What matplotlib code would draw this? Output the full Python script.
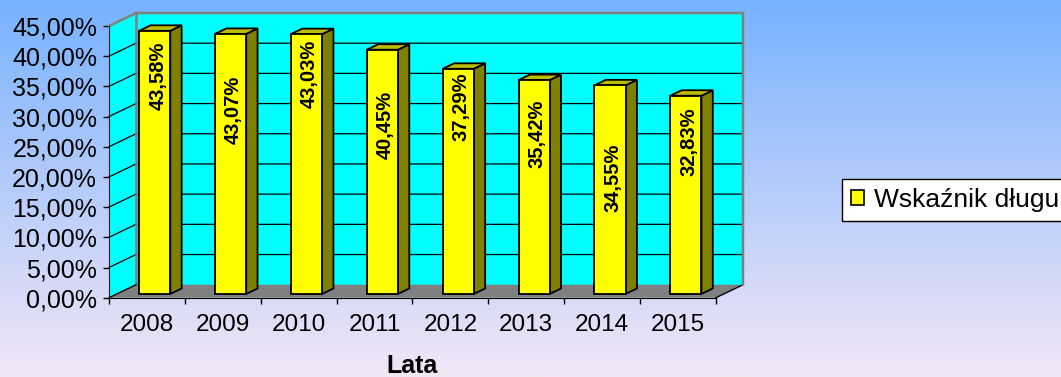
import numpy as np
import matplotlib
matplotlib.use("Agg")
import matplotlib.pyplot as plt
from matplotlib.patches import Polygon, Rectangle

plt.rcParams["font.family"] = ["Liberation Sans", "DejaVu Sans"]

# dane
years = ["2008", "2009", "2010", "2011", "2012", "2013", "2014", "2015"]
debt_ratio = [43.58, 43.07, 43.03, 40.45, 37.29, 35.42, 34.55, 32.83]
y_ticks = [0, 5, 10, 15, 20, 25, 30, 35, 40, 45]
series_name = "Wskaźnik długu"
x_title = "Lata"

# wysokość środka etykiety na słupku (w %)
label_y = [36.7, 31.1, 37.0, 28.6, 31.7, 27.2, 19.8, 25.8]

# geometria pseudo-3D
DX, DY = 0.356, 2.15          # przesunięcie głębi ścian
BAR_W = 0.41                  # szerokość słupka
Z0, Z1 = 0.29, 0.71           # głębokość przodu / tyłu słupka
Y_MAX = 45

CYAN = "#00FFFF"
GRAY = "#808080"
YELLOW = "#FFFF00"
SIDE = "#808000"
TOP = "#BDBD00"


def pt(x, y, z):
    return (x + z * DX, y + z * DY)


def fmt_pct(v):
    return f"{v:.2f}%".replace(".", ",")


W, H = 1061, 377
fig = plt.figure(figsize=(W / 100, H / 100), dpi=100)

# tło z gradientem
bg = fig.add_axes([0, 0, 1, 1], zorder=-10)
top_c = np.array([0x76, 0xB2, 0xFF]) / 255
bot_c = np.array([0xF3, 0xE6, 0xF6]) / 255
t = np.linspace(0, 1, 256)[:, None]
grad = top_c * (1 - t) + bot_c * t
bg.imshow(grad[:, None, :], aspect="auto", extent=[0, 1, 0, 1])
bg.axis("off")

n = len(years)
ax = fig.add_axes([109 / W, 79.3 / H, 634 / W, 284.7 / H])
ax.set_xlim(0, n + DX)
ax.set_ylim(0, Y_MAX + DY)
ax.patch.set_visible(False)

# ściany i podłoga
back = Polygon([pt(0, 0, 1), pt(n, 0, 1), pt(n, Y_MAX, 1), pt(0, Y_MAX, 1)],
               fc=CYAN, ec="none", zorder=1, clip_on=False)
left = Polygon([pt(0, 0, 0), pt(0, 0, 1), pt(0, Y_MAX, 1), pt(0, Y_MAX, 0)],
               fc=CYAN, ec="none", zorder=1, clip_on=False)
floor = Polygon([pt(0, 0, 0), pt(n, 0, 0), pt(n, 0, 1), pt(0, 0, 1)],
                fc=GRAY, ec="none", zorder=2, clip_on=False)
for p in (back, left, floor):
    ax.add_patch(p)

# linie siatki
for v in y_ticks[1:-1]:
    a, b, c = pt(0, v, 0), pt(0, v, 1), pt(n, v, 1)
    ax.plot([a[0], b[0], c[0]], [a[1], b[1], c[1]], color="black", lw=0.9,
            zorder=1.5, clip_on=False)

# krawędzie ścian
a, b, c = pt(0, Y_MAX, 0), pt(0, Y_MAX, 1), pt(n, Y_MAX, 1)
d = pt(n, 0, 1)
e = pt(0, 0, 1)
ax.plot([a[0], b[0], c[0], d[0]], [a[1], b[1], c[1], d[1]], color=GRAY, lw=1.8,
        zorder=3, clip_on=False, solid_joinstyle="miter")
ax.plot([e[0], b[0]], [e[1], b[1]], color=GRAY, lw=1.8, zorder=1.6, clip_on=False)
for x0 in (0, n):
    p0, p1 = pt(x0, 0, 0), pt(x0, 0, 1)
    ax.plot([p0[0], p1[0]], [p0[1], p1[1]], color="black", lw=1.0,
            zorder=2.5, clip_on=False)

# słupki
for i, v in enumerate(debt_ratio):
    cx = i + 0.5
    xl, xr = cx - BAR_W / 2, cx + BAR_W / 2
    front = Polygon([pt(xl, 0, Z0), pt(xr, 0, Z0), pt(xr, v, Z0), pt(xl, v, Z0)],
                    fc=YELLOW, ec="black", lw=1.3, zorder=5, joinstyle="miter")
    side = Polygon([pt(xr, 0, Z0), pt(xr, 0, Z1), pt(xr, v, Z1), pt(xr, v, Z0)],
                   fc=SIDE, ec="black", lw=1.3, zorder=4, joinstyle="miter")
    topf = Polygon([pt(xl, v, Z0), pt(xr, v, Z0), pt(xr, v, Z1), pt(xl, v, Z1)],
                   fc=TOP, ec="black", lw=1.3, zorder=4, joinstyle="miter")
    for p in (side, topf, front):
        ax.add_patch(p)
    lx = cx + Z0 * DX + 0.04
    ax.text(lx, label_y[i], fmt_pct(v), rotation=90, ha="center", va="center",
            fontsize=14.5, fontweight="bold", zorder=6)

# osie
for s in ("top", "right"):
    ax.spines[s].set_visible(False)
ax.spines["left"].set_bounds(0, Y_MAX)
ax.spines["bottom"].set_bounds(0, n)
ax.spines["left"].set_color("#202020")
ax.spines["left"].set_zorder(3)
ax.spines["bottom"].set_zorder(3)

ax.set_yticks(y_ticks)
ax.set_yticklabels([fmt_pct(v) for v in y_ticks])
ax.tick_params(axis="y", length=4.3, width=1.0, pad=4.3, labelsize=18)

ax.set_xticks(range(n + 1))
ax.set_xticklabels([])
ax.set_xticks([i + 0.5 for i in range(n)], minor=True)
ax.set_xticklabels(years, minor=True)
ax.tick_params(axis="x", which="major", length=4.3, width=1.0)
ax.tick_params(axis="x", which="minor", length=0, pad=12, labelsize=17.5)

ax.set_xlabel(x_title, fontsize=18, fontweight="bold", va="top")
ax.xaxis.set_label_coords(4 / (n + DX), -0.198)

# legenda (ramka wychodzi poza prawą krawędź)
handle = Rectangle((0, 0), 1, 1, fc=YELLOW, ec="black", lw=1.2)
leg = fig.legend([handle], [series_name], loc="upper left",
                 bbox_to_anchor=(842 / W, 1 - 179 / H), bbox_transform=fig.transFigure,
                 fontsize=19, frameon=True, fancybox=False, edgecolor="black",
                 framealpha=1, handlelength=0.5, handleheight=0.5,
                 handletextpad=0.38, borderpad=0.34, borderaxespad=0)
leg.get_frame().set_linewidth(1.0)

fig.savefig("out.png", dpi=100)
